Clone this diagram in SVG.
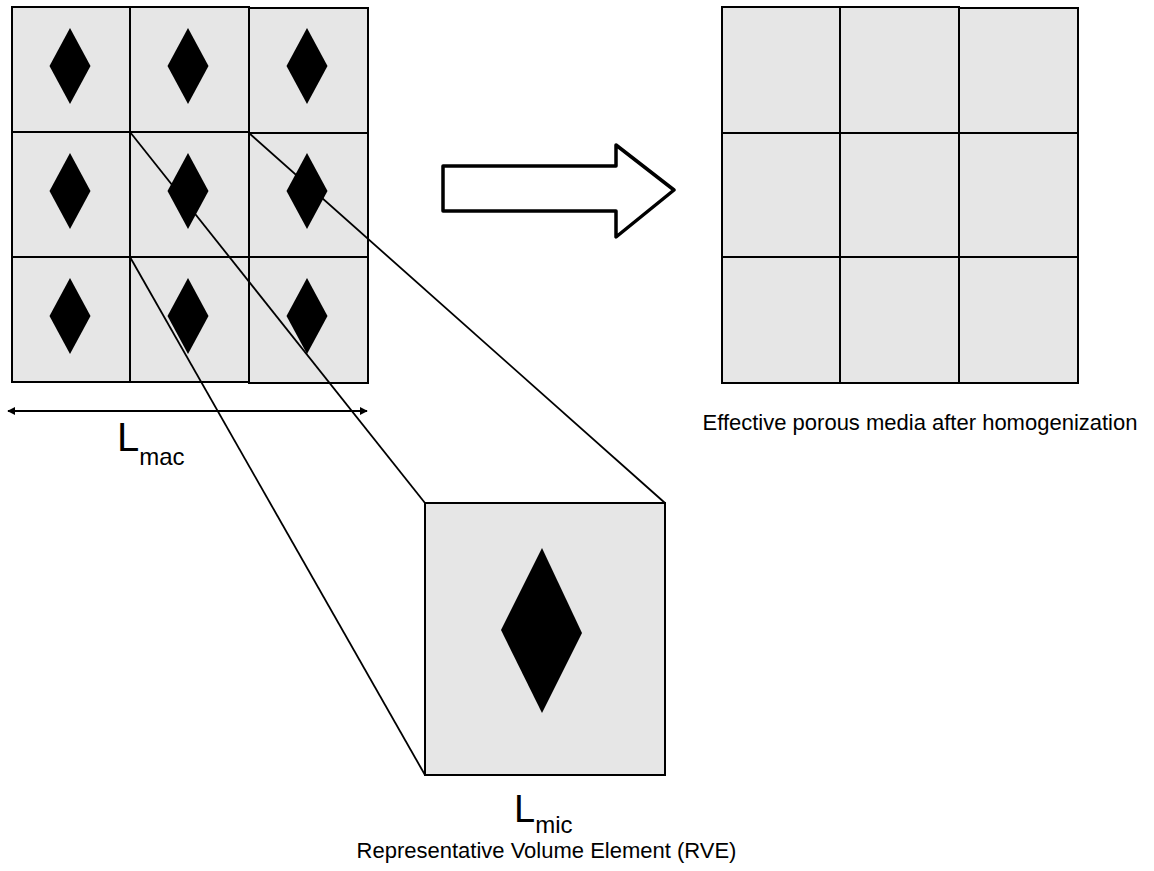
<svg xmlns="http://www.w3.org/2000/svg" width="1154" height="871" viewBox="0 0 1154 871">
<defs>
<style>
.cell{fill:#e6e6e6;stroke:#000;stroke-width:2}
.dia{fill:#000}
.ln{stroke:#000;stroke-width:1.8;fill:none}
.t{font-family:"Liberation Sans",Arial,sans-serif;fill:#000}
</style>
<marker id="ah" viewBox="0 0 10 10" refX="9" refY="5" markerWidth="4.5" markerHeight="4.5" orient="auto-start-reverse" markerUnits="strokeWidth">
<path d="M0,0 L10,5 L0,10 z" fill="#000"/>
</marker>
<polygon id="d" points="0,-38 20.5,0 0,38 -20.5,0"/>
</defs>
<rect width="1154" height="871" fill="#fff"/>
<g id="macro-grid">
<rect class="cell" x="12" y="7" width="118" height="125"/>
<rect class="cell" x="130" y="7" width="119" height="125"/>
<rect class="cell" x="249" y="8" width="119" height="125"/>
<rect class="cell" x="12" y="132" width="118" height="125"/>
<rect class="cell" x="130" y="132" width="119" height="125"/>
<rect class="cell" x="249" y="133" width="119" height="124"/>
<rect class="cell" x="12" y="257" width="118" height="125"/>
<rect class="cell" x="130" y="257" width="119" height="125"/>
<rect class="cell" x="249" y="257" width="119" height="126"/>
<use href="#d" x="70" y="66"/><use href="#d" x="188" y="66"/><use href="#d" x="307" y="66"/>
<use href="#d" x="70" y="191"/><use href="#d" x="188" y="191"/><use href="#d" x="307" y="191"/>
<use href="#d" x="70" y="316"/><use href="#d" x="188" y="316"/><use href="#d" x="307" y="316"/>
</g>
<g id="rve">
<rect class="cell" x="425" y="503" width="240" height="272"/>
<polygon class="dia" points="542,548 582,633 542,713 501,630"/>
</g>
<g id="connectors">
<line class="ln" x1="130" y1="132" x2="425" y2="503"/>
<line class="ln" x1="249" y1="133" x2="665" y2="503"/>
<line class="ln" x1="130" y1="257" x2="425" y2="775"/>
<line class="ln" x1="8" y1="411" x2="367" y2="411" marker-start="url(#ah)" marker-end="url(#ah)"/>
</g>
<g id="big-arrow">
<polygon points="443,166 616,166 616,145 674,190 616,237 616,211 443,211" fill="#fff" stroke="#000" stroke-width="3.5" stroke-linejoin="round"/>
</g>
<g id="homog-grid">
<rect class="cell" x="722" y="7" width="118" height="126"/>
<rect class="cell" x="840" y="7" width="119" height="126"/>
<rect class="cell" x="959" y="8" width="119" height="125"/>
<rect class="cell" x="722" y="133" width="118" height="124"/>
<rect class="cell" x="840" y="133" width="119" height="124"/>
<rect class="cell" x="959" y="133" width="119" height="124"/>
<rect class="cell" x="722" y="257" width="118" height="126"/>
<rect class="cell" x="840" y="257" width="119" height="126"/>
<rect class="cell" x="959" y="257" width="119" height="126"/>
</g>
<g id="labels">
<text class="t" x="117" y="451" font-size="40">L<tspan font-size="24" dy="14">mac</tspan></text>
<text class="t" x="514" y="822" font-size="38">L<tspan font-size="24" dy="11">mic</tspan></text>
<text class="t" x="546.5" y="858" font-size="22" text-anchor="middle">Representative Volume Element (RVE)</text>
<text class="t" x="920" y="430" font-size="22" text-anchor="middle">Effective porous media after homogenization</text>
</g>
</svg>
